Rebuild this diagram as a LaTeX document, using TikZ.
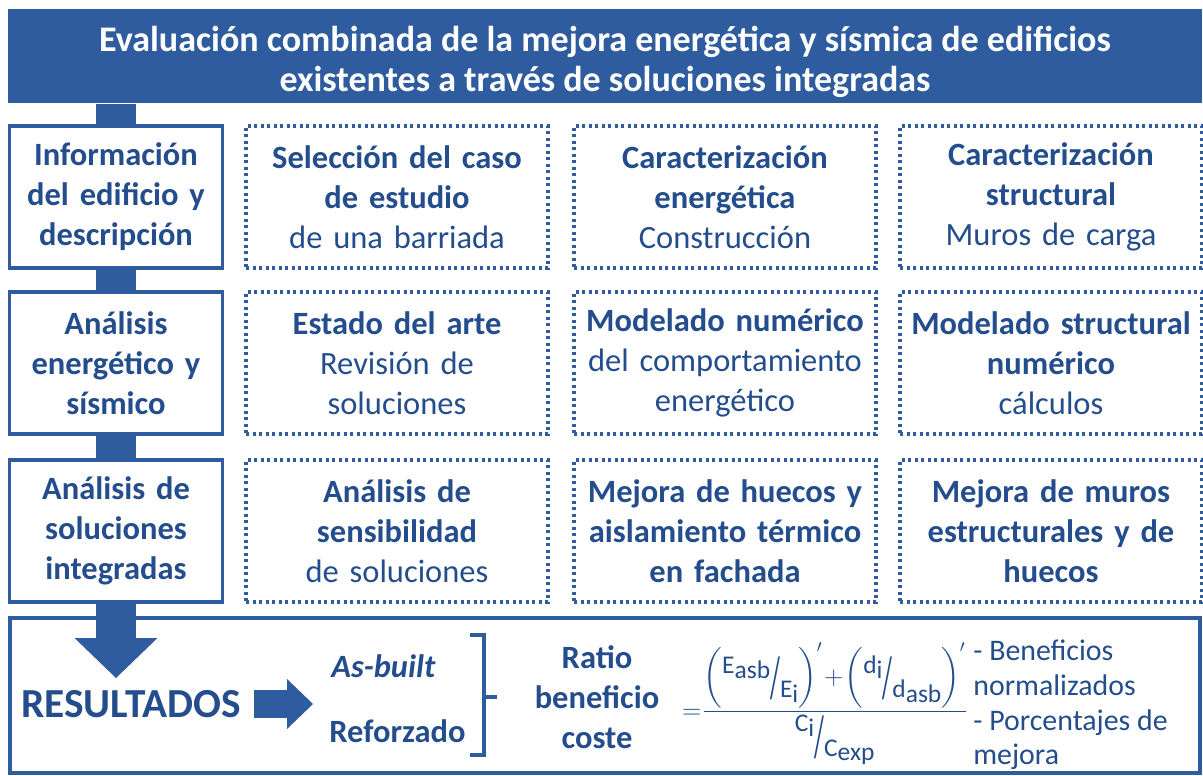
\documentclass[tikz,border=0pt]{standalone}
\usepackage{amsmath}
\usepackage{graphicx}
\usepackage{fontspec}
\setmainfont{Carlito}
\usetikzlibrary{arrows.meta,calc,positioning}
\definecolor{PlanBlue}{HTML}{2E5C9E}
\definecolor{PlanInk}{HTML}{234D8C}

\newcommand{\HeadFont}{\fontsize{20.5}{22.7}\selectfont\bfseries}
\newcommand{\BoxFont}{\fontsize{18.5}{22.7}\selectfont}
\newcommand{\BigFont}{\fontsize{18.5}{22.7}\selectfont}
\newcommand{\Hd}[1]{\textbf{#1}}
\newcommand{\LowSub}[1]{\raisebox{-0.4ex}{#1}}
\newcommand{\SlantFrac}[2]{%
  \raisebox{0.9ex}{#1}%
  \raisebox{-1.1ex}{\scalebox{1.0}[2.3]{/}}%
  \raisebox{-1.1ex}{#2}}
\newcommand{\TallStrut}{\rule[-0.7em]{0pt}{2.2em}}

\begin{document}
\begin{tikzpicture}[
  x=0.02cm, y=-0.02cm,
  every node/.style={text=PlanInk},
  banner/.style={fill=PlanBlue,text=white,minimum width=23.9cm,
    minimum height=1.9cm,align=center,font=\HeadFont},
  stage box/.style={draw=PlanBlue,line width=2pt,fill=white,
    minimum width=4.26cm,minimum height=2.84cm,text width=4cm,
    align=center,inner sep=0pt,font=\BoxFont\bfseries},
  task box/.style={draw=PlanBlue,line width=2pt,
    dash pattern=on 1.8pt off 1.9pt,minimum width=6.04cm,
    minimum height=2.84cm,text width=5.9cm,align=center,
    inner sep=0pt,font=\BoxFont},
  result frame/.style={draw=PlanBlue,line width=2.2pt,
    minimum width=23.8cm,minimum height=3.1cm,inner sep=0pt},
  link bar/.style={draw=PlanBlue,line width=0.82cm},
  drop arrow/.style={link bar,
    -{Triangle[length=0.8cm,width=1.66cm,line width=0pt]}},
  pointer arrow/.style={draw=PlanBlue,line width=0.56cm,
    -{Triangle[length=0.52cm,width=1.0cm,line width=0pt]}},
  brace line/.style={draw=PlanBlue,line width=2pt},
  result text/.style={font=\BigFont\bfseries,inner sep=0pt}
]
\useasboundingbox (0,0) rectangle (1203,776);

% column and row centres, in pixels of the reference
\def\ColL{116}
\def\ColA{397}
\def\ColB{725}
\def\ColC{1051}
\def\RowA{197}
\def\RowB{363}
\def\RowC{531}

% Title banner.
\node[banner] (title) at (605,56) {};
\node[font=\HeadFont,text=white,align=center] (titletext) at (605,62)
  {Evaluación combinada de la mejora energética y sísmica de edificios\\
   existentes a través de soluciones integradas};

% Frame of the results.
\node[result frame] (outcome) at (605,695.5) {};

% Left column of stages.
\node[stage box] (info) at (\ColL,\RowA) {Información\\del edificio y\\descripción};
\node[stage box] (analysis) at (\ColL,\RowB) {Análisis\\energético y\\sísmico};
\node[stage box] (solutions) at (\ColL,\RowC) {Análisis de\\soluciones\\integradas};

\draw[link bar] (title.south -| info.north) -- (info.north);
\draw[link bar] (info.south) -- (analysis.north);
\draw[link bar] (analysis.south) -- (solutions.north);
\coordinate (drop) at (\ColL,678);
\draw[drop arrow] (solutions.south) -- (drop);

% Dotted task boxes, row by row.
\node[task box] (caso) at (\ColA,\RowA)
  {\Hd{Selección del caso}\\\Hd{de estudio}\\de una barriada};
\node[task box] (energia) at (\ColB,\RowA)
  {\Hd{Caracterización}\\\Hd{energética}\\Construcción};
\node[task box] (muros) at (\ColC,\RowA)
  {\Hd{Caracterización}\\\Hd{structural}\\Muros de carga};

\node[task box] (arte) at (\ColA,\RowB)
  {\Hd{Estado del arte}\\Revisión de\\soluciones};
\node[task box] (modelo) at (\ColB,\RowB)
  {\Hd{Modelado numérico}\\del comportamiento\\energético};
\node[task box] (calculo) at (\ColC,\RowB)
  {\Hd{Modelado structural}\\\Hd{numérico}\\cálculos};

\node[task box] (sensib) at (\ColA,\RowC)
  {\Hd{Análisis de}\\\Hd{sensibilidad}\\de soluciones};
\node[task box] (huecos) at (\ColB,\RowC)
  {\Hd{Mejora de huecos y}\\\Hd{aislamiento térmico}\\\Hd{en fachada}};
\node[task box] (refuerzo) at (\ColC,\RowC)
  {\Hd{Mejora de muros}\\\Hd{estructurales y de}\\\Hd{huecos}};

% Results row.
\node[font=\fontsize{23.5}{28}\selectfont\bfseries,inner sep=0pt]
  (resultados) at (131,704) {RESULTADOS};
\coordinate (pointer) at (313,704);
\draw[pointer arrow,shorten <=0.26cm] (resultados.east) -- (pointer);

\node[result text,anchor=base west,font=\BigFont\bfseries\itshape]
  (asbuilt) at (331,677) {As-built};
\node[result text,anchor=base west] (reforzado) at (329,742) {Reforzado};
\draw[brace line] (470,635) -- (484,635) -- (484,755) -- (470,755)
  (484,697) -- (497,697);

\node[result text,align=center] (ratio) at (597,697)
  {Ratio\\beneficio\\coste};

\node[font=\fontsize{14.5}{17}\selectfont,inner sep=0pt] (ratioeq) at (825,704)
  {${=}\dfrac{\left(\TallStrut\text{\SlantFrac{E\LowSub{asb}}{E\LowSub{i}}}\right)^{\prime}
     \!+\!\left(\TallStrut\text{\SlantFrac{d\LowSub{i}}{d\LowSub{asb}}}\right)^{\prime}}
    {\text{\SlantFrac{C\LowSub{i}}{C\LowSub{exp}}}}$};

\node[anchor=west,align=left,inner sep=0pt,
  font=\fontsize{17}{19.8}\selectfont] (notes) at (973,705)
  {- Beneficios\\normalizados\\- Porcentajes de\\mejora};

\end{tikzpicture}
\end{document}
